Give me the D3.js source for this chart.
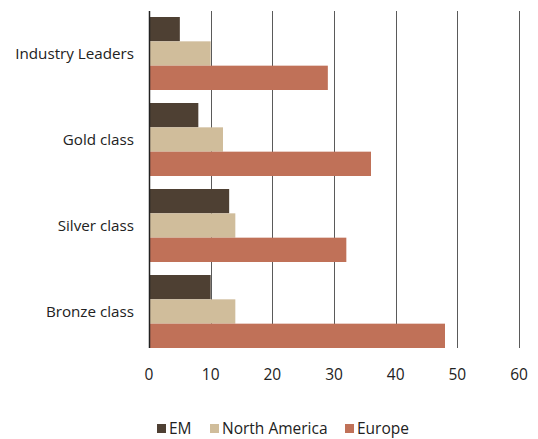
<!DOCTYPE html>
<html>
<head>
<meta charset="utf-8">
<script src="https://cdn.jsdelivr.net/npm/d3@7"></script>
<style>
  html, body { margin: 0; padding: 0; background: #fff; }
  svg { display: block; font-family: "Open Sans", "Noto Sans", sans-serif; }
</style>
</head>
<body>
<svg id="chart" width="538" height="439"></svg>
<script>
// Categories, series and tick values
const categories = ["Industry Leaders", "Gold class", "Silver class", "Bronze class"];
const seriesNames = ["EM", "North America", "Europe"];
const emValues = [5, 8, 13, 10];
const northAmericaValues = [10, 12, 14, 14];
const europeValues = [29, 36, 32, 48];
const xTicks = [0, 10, 20, 30, 40, 50, 60];
const colors = ["#4e4033", "#d0bd9b", "#c07158"];

const seriesValues = [emValues, northAmericaValues, europeValues];

const svg = d3.select("#chart");
const plotLeft = 149, plotRight = 519, plotTop = 11, plotBottom = 348;

const x = d3.scaleLinear().domain([0, 60]).range([plotLeft, plotRight]);
const y = d3.scaleBand().domain(categories).range([10.5, 354.5]).paddingInner(13 / 86).paddingOuter(13 / 172);
const ySub = d3.scaleBand().domain(seriesNames).range([0, y.bandwidth()]);

// Vertical gridlines
svg.append("g")
  .selectAll("line")
  .data(xTicks.filter(d => d > 0))
  .join("line")
  .attr("x1", d => Math.round(x(d)) + 0.5)
  .attr("x2", d => Math.round(x(d)) + 0.5)
  .attr("y1", plotTop)
  .attr("y2", plotBottom)
  .attr("stroke", "#5a5a5a")
  .attr("stroke-width", 1);

// Bars
const groups = svg.append("g")
  .selectAll("g")
  .data(categories)
  .join("g")
  .attr("transform", d => `translate(0,${y(d)})`);

groups.selectAll("rect")
  .data((c, i) => seriesNames.map((s, j) => ({ s, v: seriesValues[j][i], j })))
  .join("rect")
  .attr("x", x(0))
  .attr("y", d => ySub(d.s))
  .attr("width", d => x(d.v) - x(0))
  .attr("height", ySub.bandwidth())
  .attr("fill", d => colors[d.j]);

// Category axis line
svg.append("line")
  .attr("x1", plotLeft + 0.5).attr("x2", plotLeft + 0.5)
  .attr("y1", plotTop).attr("y2", plotBottom)
  .attr("stroke", "#222").attr("stroke-width", 1.5);

// Category labels
svg.append("g")
  .selectAll("text")
  .data(categories)
  .join("text")
  .attr("x", 134)
  .attr("y", d => y(d) + y.bandwidth() / 2)
  .attr("dy", "0.35em")
  .attr("text-anchor", "end")
  .attr("font-size", 15.2)
  .attr("fill", "#222")
  .text(d => d);

// Value axis labels
svg.append("g")
  .selectAll("text")
  .data(xTicks)
  .join("text")
  .attr("x", d => x(d))
  .attr("y", 375)
  .attr("dy", "0.35em")
  .attr("text-anchor", "middle")
  .attr("font-size", 15.5)
  .attr("fill", "#222")
  .text(d => d);

// Legend
const legendX = [157, 210, 345];
const legend = svg.append("g")
  .selectAll("g")
  .data(seriesNames)
  .join("g")
  .attr("transform", (d, i) => `translate(${legendX[i]},424)`);
legend.append("rect")
  .attr("width", 9).attr("height", 9)
  .attr("fill", (d, i) => colors[i]);
legend.append("text")
  .attr("x", 12).attr("y", 5)
  .attr("dy", "0.35em")
  .attr("font-size", 15.5)
  .attr("fill", "#222")
  .text(d => d);
</script>
</body>
</html>
